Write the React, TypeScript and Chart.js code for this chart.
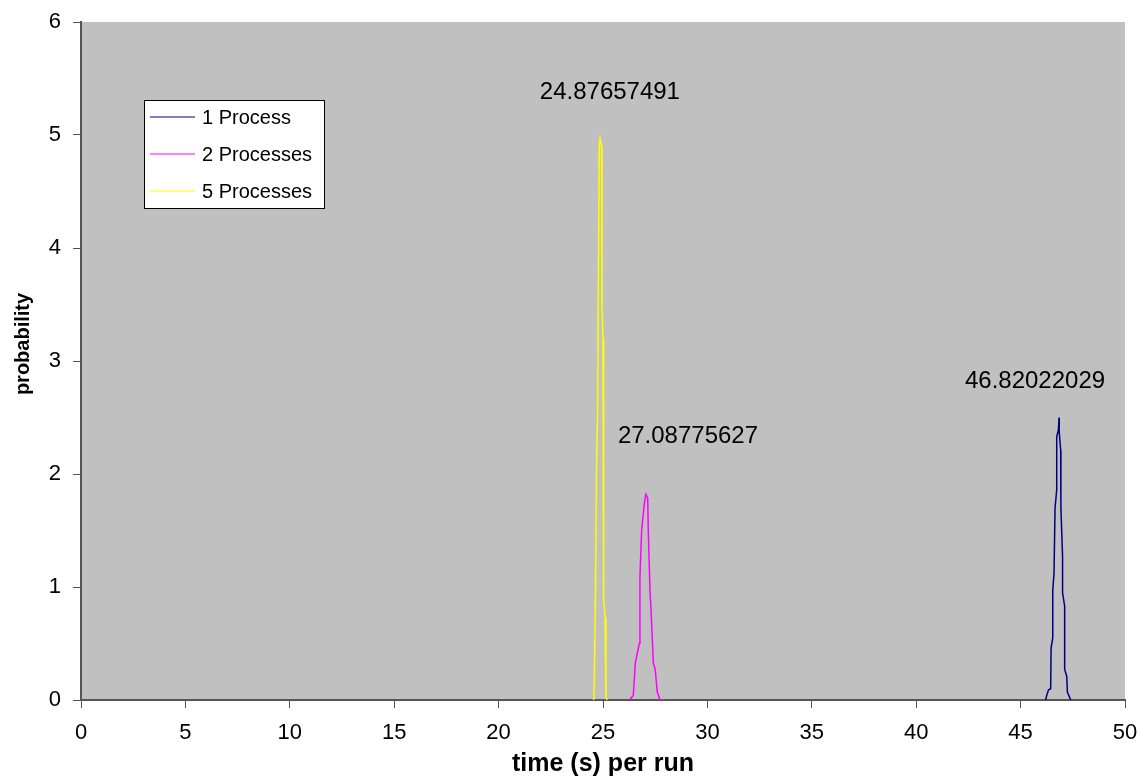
import React, { useEffect, useRef } from "react";
import { Chart, registerables } from "chart.js";

Chart.register(...registerables);

const seriesNames = ["1 Process", "2 Processes", "5 Processes"];
const seriesColors = ["#000080", "#ff00ff", "#ffff00"];

const x1 = [46.2, 46.25, 46.34, 46.44, 46.46, 46.54, 46.54, 46.6, 46.65, 46.73, 46.73, 46.81, 46.84, 46.85, 46.92, 46.93, 47.01, 47.01, 47.11, 47.11, 47.21, 47.24, 47.4];
const y1 = [0, 0.04, 0.09, 0.1, 0.46, 0.55, 0.97, 1.12, 1.7, 1.86, 2.33, 2.39, 2.5, 2.37, 2.21, 1.7, 1.27, 0.95, 0.83, 0.27, 0.21, 0.07, 0];

const x2 = [26.26, 26.45, 26.49, 26.55, 26.74, 26.77, 26.85, 26.98, 27.05, 27.14, 27.17, 27.25, 27.3, 27.41, 27.5, 27.6, 27.73, 27.92];
const y2 = [0, 0.04, 0.15, 0.33, 0.5, 1.09, 1.5, 1.74, 1.82, 1.79, 1.49, 0.97, 0.8, 0.33, 0.27, 0.07, 0, 0];

const x5 = [24.55, 24.57, 24.63, 24.7, 24.74, 24.82, 24.86, 24.9, 24.93, 24.95, 25.0, 25.03, 25.1, 25.14, 25.2];
const y5 = [0, 0.02, 0.76, 2.2, 2.5, 4.9, 4.97, 4.97, 4.9, 3.5, 3.2, 0.9, 0.73, 0.02, 0];

const xTicks = [0, 5, 10, 15, 20, 25, 30, 35, 40, 45, 50];
const yTicks = [0, 1, 2, 3, 4, 5, 6];

const peakLabels = ["24.87657491", "27.08775627", "46.82022029"];
const peakLabelX = [25.33, 29.07, 45.69];
const peakLabelY = [5.38, 2.33, 2.82];

const xTitle = "time (s) per run";
const yTitle = "probability";

const FONT = '"Liberation Sans", Arial, sans-serif';

function pts(xs: number[], ys: number[]) {
  return xs.map((x, i) => ({ x, y: ys[i] }));
}

const decorPlugin = {
  id: "decor",
  beforeDraw(chart: any) {
    const { ctx, chartArea } = chart;
    ctx.save();
    ctx.fillStyle = "#c0c0c0";
    ctx.fillRect(chartArea.left, chartArea.top, chartArea.right - chartArea.left, chartArea.bottom - chartArea.top);
    ctx.restore();
  },
  afterDraw(chart: any) {
    const { ctx, chartArea, scales } = chart;
    ctx.save();
    // peak labels
    ctx.fillStyle = "#000";
    ctx.font = `24px ${FONT}`;
    ctx.textAlign = "center";
    ctx.textBaseline = "middle";
    peakLabels.forEach((t, i) => {
      ctx.fillText(t, scales.x.getPixelForValue(peakLabelX[i]), scales.y.getPixelForValue(peakLabelY[i]));
    });
    // axis titles
    ctx.font = `bold 25px ${FONT}`;
    ctx.fillText(xTitle, (chartArea.left + chartArea.right) / 2, 764);
    ctx.save();
    ctx.translate(23, chartArea.top + 322);
    ctx.rotate(-Math.PI / 2);
    ctx.font = `bold 20px ${FONT}`;
    ctx.fillText(yTitle, 0, 0);
    ctx.restore();
    // legend
    const lx = chartArea.left + 63;
    const ly = chartArea.top + 78;
    const lw = 180;
    const lh = 108;
    ctx.fillStyle = "#fff";
    ctx.fillRect(lx, ly, lw, lh);
    ctx.strokeStyle = "#000";
    ctx.lineWidth = 1;
    ctx.strokeRect(lx + 0.5, ly + 0.5, lw, lh);
    ctx.font = `20px ${FONT}`;
    ctx.textAlign = "left";
    seriesNames.forEach((n, i) => {
      const yy = ly + 17 + i * 37;
      ctx.strokeStyle = seriesColors[i];
      ctx.lineWidth = 1.2;
      ctx.beginPath();
      ctx.moveTo(lx + 6, yy);
      ctx.lineTo(lx + 51, yy);
      ctx.stroke();
      ctx.fillStyle = "#000";
      ctx.fillText(n, lx + 58, yy + 1);
    });
    ctx.restore();
  },
};

export default function App() {
  const ref = useRef<HTMLCanvasElement>(null);
  useEffect(() => {
    document.body.style.margin = "0";
    const chart = new Chart(ref.current!, {
      type: "line",
      data: {
        datasets: [
          { label: seriesNames[0], data: pts(x1, y1), borderColor: seriesColors[0] },
          { label: seriesNames[1], data: pts(x2, y2), borderColor: seriesColors[1] },
          { label: seriesNames[2], data: pts(x5, y5), borderColor: seriesColors[2] },
        ].map((d) => ({ ...d, borderWidth: 1.5, pointRadius: 0, tension: 0, fill: false })),
      },
      options: {
        animation: false,
        responsive: false,
        events: [],
        layout: { padding: { top: 22, right: 20, left: 0, bottom: 0 } },
        plugins: { legend: { display: false }, tooltip: { enabled: false } },
        scales: {
          x: {
            type: "linear",
            min: 0,
            max: 50,
            afterFit: (s: any) => { s.height = 80; s.paddingLeft = 0; s.paddingRight = 0; },
            afterBuildTicks: (s: any) => { s.ticks = xTicks.map((v) => ({ value: v })); },
            ticks: { color: "#000", font: { size: 22, family: FONT }, padding: 12, maxRotation: 0 },
            grid: { drawOnChartArea: false, drawTicks: true, tickLength: 8, color: "#555", lineWidth: 1 },
            border: { color: "#555", width: 2 },
          },
          y: {
            type: "linear",
            min: 0,
            max: 6,
            afterFit: (s: any) => { s.width = 81; s.paddingTop = 0; s.paddingBottom = 0; },
            afterBuildTicks: (s: any) => { s.ticks = yTicks.map((v) => ({ value: v })); },
            ticks: { color: "#000", font: { size: 22, family: FONT }, padding: 12 },
            grid: { drawOnChartArea: false, drawTicks: true, tickLength: 8, color: "#555", lineWidth: 1 },
            border: { color: "#555", width: 2 },
          },
        },
      },
      plugins: [decorPlugin],
    });
    return () => chart.destroy();
  }, []);
  return <canvas ref={ref} width={1145} height={780} style={{ display: "block" }} />;
}
